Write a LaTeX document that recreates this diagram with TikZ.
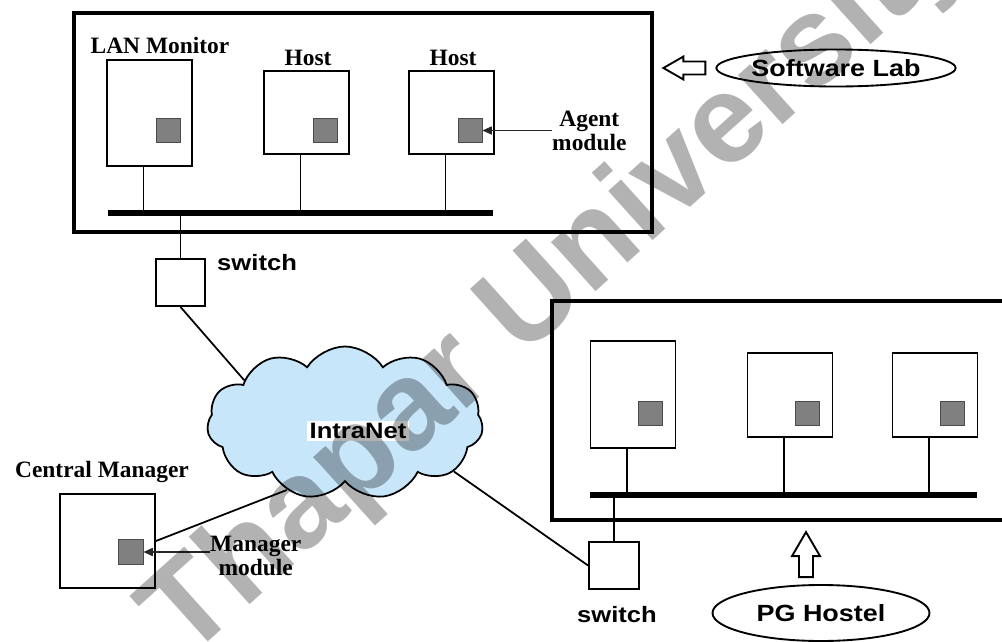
\documentclass[tikz,border=0pt]{standalone}
\usepackage{fontspec}
\setmainfont{Liberation Serif}
\newfontfamily\labelsans[FakeStretch=1.15]{Liberation Sans}
\newfontfamily\wmfont{Liberation Sans}
\usetikzlibrary{shapes.geometric,shapes.symbols,arrows.meta,calc}

\definecolor{cloudblue}{RGB}{200,230,250}
\definecolor{modgray}{RGB}{128,128,128}

\begin{document}
\begin{tikzpicture}[x=0.03cm, y=-0.03cm,
  room/.style={draw, line width=3pt, inner sep=0},
  hostbox/.style={draw, line width=1.6pt, fill=white, inner sep=0, minimum width=2.55cm},
  modbox/.style={draw=black!70, line width=0.8pt, fill=modgray, inner sep=0, minimum size=0.72cm},
  swbox/.style={draw, line width=1.6pt, inner sep=0, minimum width=1.45cm, minimum height=1.41cm},
  bus/.style={line width=4.5pt},
  drop/.style={line width=1.5pt},
  wire/.style={line width=1.5pt},
  pointer/.style={line width=0.9pt, black!85, -{Triangle[length=8pt,width=7pt]}},
  hollow/.style={draw, line width=1.6pt, fill=white, line join=miter},
  tag/.style={font=\bfseries\fontsize{20}{20}\selectfont, inner sep=0},
  sanstag/.style={font=\labelsans\bfseries\fontsize{19}{19}\selectfont, inner sep=0},
  place/.style={draw, ellipse, line width=1.6pt, inner sep=0, font=\labelsans\bfseries\fontsize{20}{20}\selectfont},
]

\useasboundingbox (0,0) rectangle (1002,642);

% Software Lab
\node[room, minimum width=17.34cm, minimum height=6.57cm] (lab) at (363,122.5) {};
\node[hostbox, minimum height=3.18cm] (mon) at (149.5,113) {};
\node[hostbox, minimum height=2.49cm] (hosta) at (306.5,112.5) {};
\node[hostbox, minimum height=2.49cm] (hostb) at (451.5,112.5) {};
\node[modbox] (monm) at (168,130.5) {};
\node[modbox] (hostam) at (325,130.5) {};
\node[modbox] (hostbm) at (470,130.5) {};

\node[tag] at (160,45) {LAN Monitor};
\node[tag] at (308,58) {Host};
\node[tag] at (453,58) {Host};

\coordinate (laba) at (108,213);
\coordinate (labb) at (493,213);
\draw[bus] (laba) -- (labb);
\foreach \h in {mon,hosta,hostb}
  \draw[drop] ($(\h.south)+(-6,0)$) coordinate (d) -- (d |- laba);

\node[swbox] (swa) at (180.5,282.5) {};
\draw[drop] (swa.north) -- (swa.north |- laba);
\node[sanstag, anchor=west] at (217,263) {switch};

\node[tag, align=center, anchor=west, font=\bfseries\fontsize{20}{21}\selectfont] (agent) at (552,131) {Agent\\module};
\draw[pointer] (agent.west |- hostbm.east) -- (hostbm.east);

\node[place, minimum width=6.21cm, minimum height=1.11cm] (lablbl) at (836,68) {Software Lab};
\draw[hollow] ([shift={(-10,-6.5)}]lablbl.west) -- ++(-22,0) -- ++(0,-5)
  -- ++(-20,11.5) -- ++(20,11.5) -- ++(0,-5) -- ++(22,0) -- cycle;

% PG Hostel
\node[room, minimum width=13.56cm, minimum height=6.57cm] (hostel) at (778,410.5) {};
\node[hostbox, minimum height=3.21cm] (hostc) at (633,394.5) {};
\node[hostbox, minimum height=2.52cm] (hostd) at (790,395) {};
\node[hostbox, minimum height=2.52cm] (hoste) at (935,395) {};
\node[modbox] (hostcm) at (650.5,413) {};
\node[modbox] (hostdm) at (807,413.5) {};
\node[modbox] (hostem) at (952.5,413.5) {};

\coordinate (pga) at (590,495);
\coordinate (pgb) at (977,495);
\draw[bus] (pga) -- (pgb);
\foreach \h in {hostc,hostd,hoste}
  \draw[drop] ($(\h.south)+(-6,0)$) coordinate (d) -- (d |- pga);

\node[swbox, minimum width=1.5cm] (swb) at (614,565.5) {};
\draw[drop] (swb.north) -- (swb.north |- pga);
\node[sanstag] at (617,615) {switch};

\node[place, minimum width=6.51cm, minimum height=1.68cm] (pg) at (821,613) {PG Hostel};
\draw[hollow] ([shift={(-22,-7)}]pg.north) -- ++(0,-21) -- ++(-7,0)
  -- ++(14,-24) -- ++(14,24) -- ++(-7,0) -- ++(0,21) -- cycle;

% IntraNet
\node[cloud, cloud puffs=11, cloud puff arc=115, cloud ignores aspect, draw, line width=1.5pt,
  fill=cloudblue, minimum width=8.28cm, minimum height=4.59cm] (net) at (345,423) {};
\node[sanstag, fill=white, inner sep=2pt] (netlbl) at (358,431) {IntraNet};

% Central Manager
\node[hostbox, minimum width=2.85cm, minimum height=2.82cm] (cm) at (107.5,541) {};
\node[modbox, minimum size=0.75cm] (cmm) at (130.5,552) {};
\node[tag] at (102,472) {Central Manager};
\node[tag, align=center, anchor=west] (mgr) at (210,556) {Manager\\module};
\draw[pointer] (mgr.west |- cmm.east) -- (cmm.east);

% links
\draw[wire] (swa.south) -- (net.157);
\draw[wire] (net.229) -- (cm.east);
\draw[wire] (net.336) -- (swb.west);

% watermark
\node[rotate=42, opacity=0.3, inner sep=0, font=\wmfont\bfseries\fontsize{107}{107}\selectfont] (wm) at (558,283) {Thapar University};

\end{tikzpicture}
\end{document}
